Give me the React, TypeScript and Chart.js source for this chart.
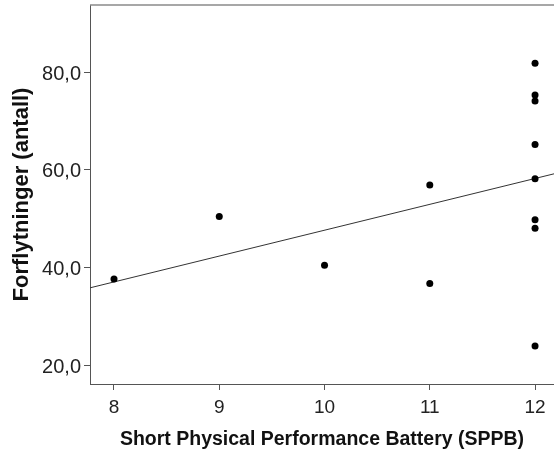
import React, { useEffect, useRef } from "react";
import { Chart, registerables } from "chart.js";

Chart.register(...registerables);

const sppb = [8, 9, 10, 11, 11, 12, 12, 12, 12, 12, 12, 12, 12];
const forflytninger = [37.7, 50.5, 40.5, 36.8, 56.9, 81.8, 75.3, 74.1, 65.2, 58.2, 49.8, 48.1, 24.0];
const fitLineX = [7.772, 12.18];
const fitLineY = [35.9, 59.2];
const xTickValues = [8, 9, 10, 11, 12];
const yTickValues = [20, 40, 60, 80];
const xRange = [7.772, 12.18];
const yRange = [16.25, 93.7];
const xTitle = "Short Physical Performance Battery (SPPB)";
const yTitle = "Forflytninger (antall)";

const FONT = "'Liberation Sans', Arial, sans-serif";

const topBorder = {
  id: "topBorder",
  afterDraw(chart: any) {
    const { ctx, chartArea } = chart;
    ctx.save();
    ctx.strokeStyle = "#8a8a8a";
    ctx.lineWidth = 1.5;
    ctx.beginPath();
    ctx.moveTo(chartArea.left, chartArea.top);
    ctx.lineTo(chartArea.right, chartArea.top);
    ctx.stroke();
    ctx.restore();
  },
};

const whiteBg = {
  id: "whiteBg",
  beforeDraw(chart: any) {
    const { ctx } = chart;
    ctx.save();
    ctx.fillStyle = "#fff";
    ctx.fillRect(0, 0, chart.width, chart.height);
    ctx.restore();
  },
};

export default function App() {
  const ref = useRef<HTMLCanvasElement | null>(null);
  useEffect(() => {
    if (!ref.current) return;
    const chart = new Chart(ref.current, {
      type: "scatter",
      data: {
        datasets: [
          {
            label: "points",
            data: sppb.map((x, i) => ({ x, y: forflytninger[i] })),
            backgroundColor: "#000",
            borderWidth: 0,
            pointRadius: 3.5,
            order: 1,
          },
          {
            label: "fit",
            type: "line" as any,
            data: fitLineX.map((x, i) => ({ x, y: fitLineY[i] })),
            borderColor: "#333",
            borderWidth: 1,
            pointRadius: 0,
            fill: false,
            showLine: true,
            order: 2,
          } as any,
        ],
      },
      options: {
        animation: false,
        responsive: false,
        events: [],
        layout: { autoPadding: false, padding: { top: 5, right: 0, left: 0, bottom: 0 } },
        plugins: { legend: { display: false }, tooltip: { enabled: false } },
        scales: {
          x: {
            type: "linear",
            min: xRange[0],
            max: xRange[1],
            afterBuildTicks: (s: any) => {
              s.ticks = xTickValues.map((v) => ({ value: v }));
            },
            afterFit: (s: any) => {
              s.height = 69;
              s.paddingLeft = 0;
              s.paddingRight = 0;
            },
            border: { display: true, color: "#555", width: 1 },
            grid: { display: true, drawOnChartArea: false, drawTicks: true, tickLength: 6, tickColor: "#555" },
            ticks: { font: { family: FONT, size: 19 }, color: "#222", padding: 6, maxRotation: 0, callback: (v: any) => String(v) },
            title: { display: true, text: xTitle, font: { family: FONT, size: 19.5, weight: "bold" }, color: "#111", padding: { top: 0, bottom: 1.5 } },
          },
          y: {
            type: "linear",
            min: yRange[0],
            max: yRange[1],
            afterBuildTicks: (s: any) => {
              s.ticks = yTickValues.map((v) => ({ value: v }));
            },
            afterFit: (s: any) => {
              s.width = 90;
              s.paddingTop = 0;
              s.paddingBottom = 0;
            },
            border: { display: true, color: "#555", width: 1 },
            grid: { display: true, drawOnChartArea: false, drawTicks: true, tickLength: 6, tickColor: "#555" },
            ticks: { font: { family: FONT, size: 20 }, color: "#222", padding: 3, labelOffset: 2, callback: (v: any) => Number(v).toFixed(1).replace(".", ",") },
            title: { display: true, text: yTitle, font: { family: FONT, size: 22, weight: "bold" }, color: "#111", padding: { top: 9, bottom: 0 } },
          },
        },
      },
      plugins: [whiteBg, topBorder],
    });
    return () => chart.destroy();
  }, []);
  return (
    <div style={{ position: "absolute", left: 0, top: 0, width: 554, height: 453, background: "#fff" }}>
      <canvas ref={ref} width={554} height={453} style={{ display: "block" }} />
    </div>
  );
}
